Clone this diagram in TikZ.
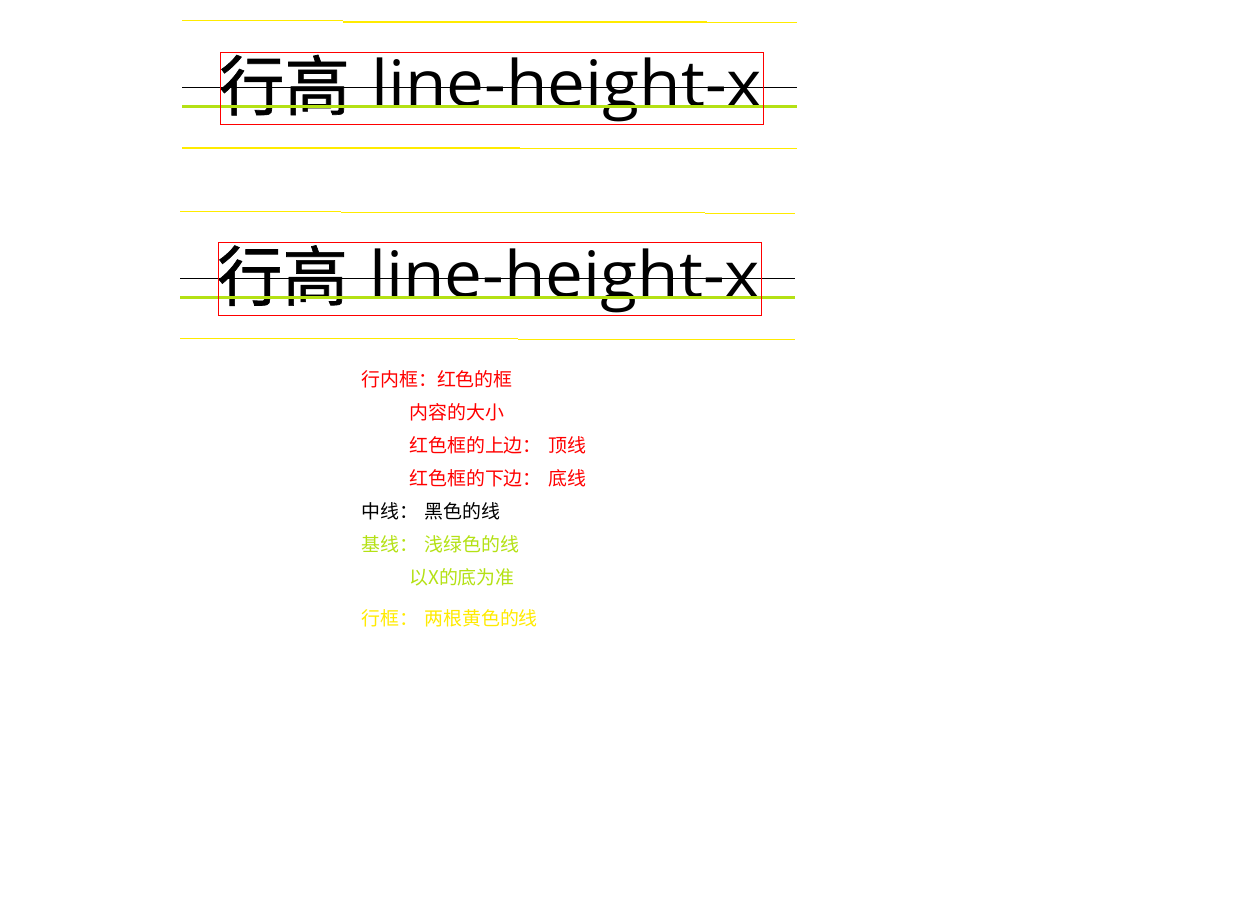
\documentclass[tikz,border=0pt]{standalone}
\usepackage{fontspec}
\setmainfont{Open Sans}
\newfontfamily\cjk{Noto Sans CJK SC}
\newfontfamily\cjkb[FakeBold=1]{Noto Sans CJK SC}
\newfontfamily\lat{Open Sans}
\definecolor{ylw}{RGB}{255,235,0}
\definecolor{lgreen}{RGB}{180,225,20}
\definecolor{rd}{RGB}{255,0,0}
\begin{document}
\begin{tikzpicture}[x=0.75pt,y=-0.75pt,
  yline/.style={draw=ylw,line width=0.75pt},
  ylinethick/.style={draw=ylw,line width=1.2pt},
  midline/.style={draw=black,line width=0.75pt},
  baseline/.style={draw=lgreen,line width=2.25pt},
  inbox/.style={draw=rd,line width=0.75pt},
  big/.style={inner sep=0pt,anchor=base west,font=\fontsize{48pt}{48pt}\selectfont},
  note/.style={inner sep=0pt,anchor=west,font=\cjk\fontsize{14.2pt}{17pt}\selectfont}]
\useasboundingbox (0,0) rectangle (1259,916);
\fill[white] (0,0) rectangle (1259,916);
\foreach \dx/\dy/\n in {0/0/a,-2/190.5/b}{
\begin{scope}[shift={(\dx,\dy)}]
  \coordinate (\n tl1) at (182,21); \coordinate (\n tl2) at (343,21);
  \coordinate (\n tm1) at (343,22); \coordinate (\n tm2) at (707,22);
  \coordinate (\n tr1) at (707,23); \coordinate (\n tr2) at (797,23);
  \coordinate (\n bl1) at (182,148); \coordinate (\n bl2) at (520,148);
  \coordinate (\n br1) at (520,149); \coordinate (\n br2) at (797,149);
  \coordinate (\n m1) at (182,87.5); \coordinate (\n m2) at (797,87.5);
  \coordinate (\n g1) at (182,106.5); \coordinate (\n g2) at (797,106.5);
  \draw[yline] (\n tl1) -- (\n tl2);
  \draw[ylinethick] (\n tm1) -- (\n tm2);
  \draw[yline] (\n tr1) -- (\n tr2);
  \draw[ylinethick] (\n bl1) -- (\n bl2);
  \draw[yline] (\n br1) -- (\n br2);
  \node[big,font=\cjkb\fontsize{49pt}{49pt}\selectfont] (\n cjk) at (219,110) {行高};
  \node[big,xscale=1.055] (\n lat) at (371,107) {\lat line-height-x};
  \draw[midline] (\n m1) -- (\n m2);
  \draw[baseline] (\n g1) -- (\n g2);
  \node[inbox,inner sep=0pt,minimum width=543*0.75pt,minimum height=72*0.75pt,anchor=north west] (\n box) at (220,52) {};
\end{scope}}
% notes
\node[note,text=rd] (n1) at (361,379) {行内框：红色的框};
\node[note,text=rd] (n2) at (409,412) {内容的大小};
\node[note,text=rd] (n3a) at (409,445) {红色框的上边：};
\node[note,text=rd] (n3b) at (548,445) {顶线};
\node[note,text=rd] (n4a) at (409,478) {红色框的下边：};
\node[note,text=rd] (n4b) at (548,478) {底线};
\node[note,text=black] (n5a) at (361,511) {中线：};
\node[note,text=black] (n5b) at (424,511) {黑色的线};
\node[note,text=lgreen] (n6a) at (361,544) {基线：};
\node[note,text=lgreen] (n6b) at (424,544) {浅绿色的线};
\node[note,text=lgreen] (n7) at (409,577) {以X的底为准};
\node[note,text=ylw] (n8a) at (361,618) {行框：};
\node[note,text=ylw] (n8b) at (424,618) {两根黄色的线};
\end{tikzpicture}
\end{document}
